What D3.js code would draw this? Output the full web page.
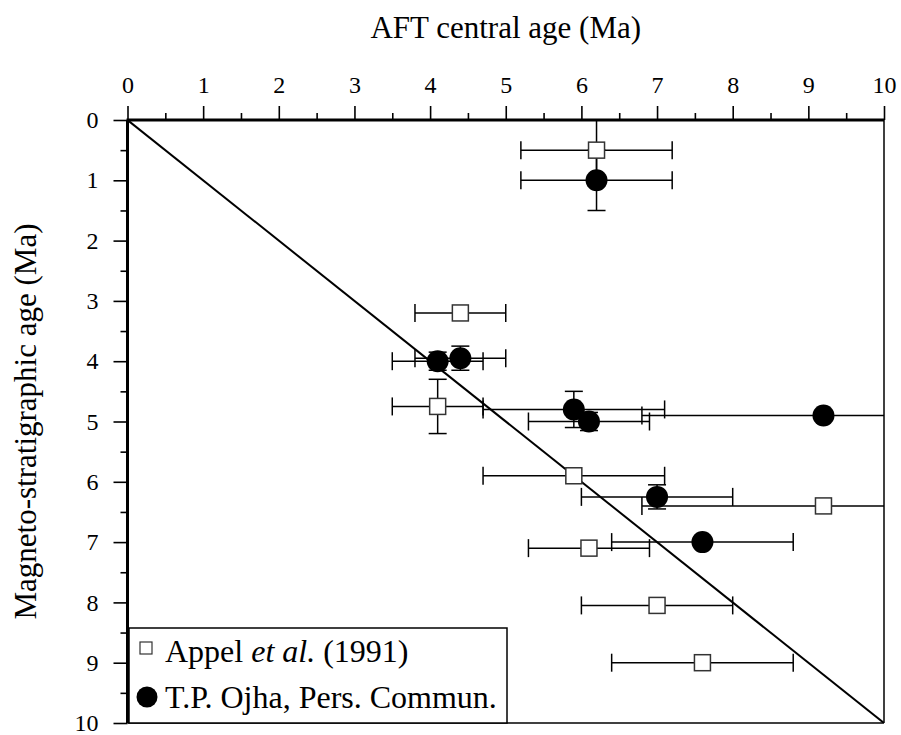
<!DOCTYPE html>
<html lang="en">
<head>
<meta charset="utf-8">
<title>AFT central age vs magneto-stratigraphic age</title>
<script src="https://d3js.org/d3.v7.min.js"></script>
<style>
  body { margin: 0; background: #fff; }
  svg text { font-family: "Liberation Serif", "Times New Roman", serif; fill: #000; }
</style>
</head>
<body>
<div id="chart"></div>
<script>
// Data
const aftAge = [6.2, 4.4, 4.1, 5.9, 9.2, 6.1, 7.0, 7.6];      // AFT central age (Ma)
const aftErr = [1.0, 0.6, 0.6, 1.2, 2.4, 0.8, 1.0, 1.2];      // +/- (Ma)
const appelAge = [0.5, 3.2, 4.75, 5.9, 6.4, 7.1, 8.05, 9.0];  // Appel et al. (1991)
const appelErr = [0.5, 0, 0.45, 0, 0, 0, 0, 0];
const ojhaAge = [1.0, 3.95, 4.0, 4.8, 4.9, 5.0, 6.25, 7.0];   // T.P. Ojha, pers. commun.
const ojhaErr = [0.5, 0.2, 0.15, 0.3, 0, 0.15, 0.2, 0];
const majorTicks = [0, 1, 2, 3, 4, 5, 6, 7, 8, 9, 10];
const minorTicks = [0.5, 1.5, 2.5, 3.5, 4.5, 5.5, 6.5, 7.5, 8.5, 9.5];

const appel = aftAge.map((a, i) => ({ x: a, xe: aftErr[i], y: appelAge[i], ye: appelErr[i] }));
const ojha = aftAge.map((a, i) => ({ x: a, xe: aftErr[i], y: ojhaAge[i], ye: ojhaErr[i] }));

const W = 901, H = 735;
const plotL = 127.5, plotR = 884, plotT = 120, plotB = 723;

const svg = d3.select("#chart").append("svg")
  .attr("width", W)
  .attr("height", H);

const x = d3.scaleLinear().domain([0, 10]).range([plotL, plotR]);
const y = d3.scaleLinear().domain([0, 10]).range([plotT, plotB]);

svg.append("defs").append("clipPath")
  .attr("id", "plot")
  .append("rect")
  .attr("x", plotL).attr("y", plotT)
  .attr("width", plotR - plotL).attr("height", plotB - plotT);

// Axes: top (x) and left (y), major + minor ticks
function styleAxis(g) {
  g.select(".domain").remove();
  g.selectAll(".tick line").attr("stroke", "#000").attr("stroke-width", 1.6);
  g.selectAll(".tick text").attr("font-size", 24).attr("fill", "#000")
    .style("font-family", "'Liberation Serif', 'Times New Roman', serif");
}

svg.append("g")
  .attr("transform", `translate(0,${plotT})`)
  .call(d3.axisTop(x).tickValues(majorTicks).tickSize(14).tickPadding(13).tickFormat(d3.format("d")))
  .call(styleAxis);

svg.append("g")
  .attr("transform", `translate(0,${plotT})`)
  .call(d3.axisTop(x).tickValues(minorTicks).tickSize(7).tickFormat(""))
  .call(styleAxis);

svg.append("g")
  .attr("transform", `translate(${plotL},0)`)
  .call(d3.axisLeft(y).tickValues(majorTicks).tickSize(14).tickPadding(15).tickFormat(d3.format("d")))
  .call(styleAxis);

svg.append("g")
  .attr("transform", `translate(${plotL},0)`)
  .call(d3.axisLeft(y).tickValues(minorTicks).tickSize(7).tickFormat(""))
  .call(styleAxis);

// Frame
svg.append("line").attr("x1", plotL).attr("x2", plotR).attr("y1", plotB).attr("y2", plotB)
  .attr("stroke", "#000").attr("stroke-width", 1.5);
svg.append("line").attr("x1", plotR).attr("x2", plotR).attr("y1", plotT).attr("y2", plotB)
  .attr("stroke", "#000").attr("stroke-width", 1.5);
svg.append("line").attr("x1", plotL - 1).attr("x2", plotR).attr("y1", plotT).attr("y2", plotT)
  .attr("stroke", "#000").attr("stroke-width", 3);
svg.append("line").attr("x1", plotL).attr("x2", plotL).attr("y1", plotT).attr("y2", plotB)
  .attr("stroke", "#000").attr("stroke-width", 3);

// Axis titles
svg.append("text")
  .attr("x", (plotL + plotR) / 2)
  .attr("y", 38)
  .attr("text-anchor", "middle")
  .attr("font-size", 31)
  .text("AFT central age (Ma)");

svg.append("text")
  .attr("transform", `translate(36,${(plotT + plotB) / 2}) rotate(-90)`)
  .attr("text-anchor", "middle")
  .attr("font-size", 31)
  .text("Magneto-stratigraphic age (Ma)");

const plot = svg.append("g").attr("clip-path", "url(#plot)");

// 1:1 line
plot.append("line")
  .attr("x1", x(0)).attr("y1", y(0))
  .attr("x2", x(10)).attr("y2", y(10))
  .attr("stroke", "#000").attr("stroke-width", 2);

// Error bars
const cap = 9;
function errorBars(data) {
  const g = plot.append("g").attr("stroke", "#000").attr("stroke-width", 1.5);
  data.forEach(d => {
    g.append("line").attr("x1", x(d.x - d.xe)).attr("x2", x(d.x + d.xe)).attr("y1", y(d.y)).attr("y2", y(d.y));
    [d.x - d.xe, d.x + d.xe].forEach(v => {
      g.append("line").attr("x1", x(v)).attr("x2", x(v)).attr("y1", y(d.y) - cap).attr("y2", y(d.y) + cap);
    });
    if (d.ye > 0) {
      g.append("line").attr("x1", x(d.x)).attr("x2", x(d.x)).attr("y1", y(d.y - d.ye)).attr("y2", y(d.y + d.ye));
      [d.y - d.ye, d.y + d.ye].forEach(v => {
        g.append("line").attr("x1", x(d.x) - cap).attr("x2", x(d.x) + cap).attr("y1", y(v)).attr("y2", y(v));
      });
    }
  });
}
errorBars(appel);
errorBars(ojha);

// Markers
const sq = 16;
plot.selectAll("rect.appel")
  .data(appel)
  .enter()
  .append("rect")
  .attr("class", "appel")
  .attr("x", d => x(d.x) - sq / 2)
  .attr("y", d => y(d.y) - sq / 2)
  .attr("width", sq).attr("height", sq)
  .attr("fill", "#fff")
  .attr("stroke", "#333")
  .attr("stroke-width", 1.5);

plot.selectAll("circle.ojha")
  .data(ojha)
  .enter()
  .append("circle")
  .attr("class", "ojha")
  .attr("cx", d => x(d.x))
  .attr("cy", d => y(d.y))
  .attr("r", 11)
  .attr("fill", "#000");

// Legend
const legend = svg.append("g");
legend.append("rect")
  .attr("x", 129).attr("y", 628)
  .attr("width", 378).attr("height", plotB - 628)
  .attr("fill", "#fff")
  .attr("stroke", "#000")
  .attr("stroke-width", 1.5);

legend.append("rect")
  .attr("x", 140).attr("y", 642)
  .attr("width", 12).attr("height", 12)
  .attr("fill", "#fff").attr("stroke", "#333").attr("stroke-width", 1.2);

const t1 = legend.append("text").attr("x", 165).attr("y", 662).attr("font-size", 32);
t1.append("tspan").text("Appel ");
t1.append("tspan").attr("font-style", "italic").text("et al.");
t1.append("tspan").text(" (1991)");

legend.append("circle").attr("cx", 147).attr("cy", 697).attr("r", 10.5).attr("fill", "#000");
legend.append("text").attr("x", 165).attr("y", 708).attr("font-size", 32)
  .text("T.P. Ojha, Pers. Commun.");
</script>
</body>
</html>
